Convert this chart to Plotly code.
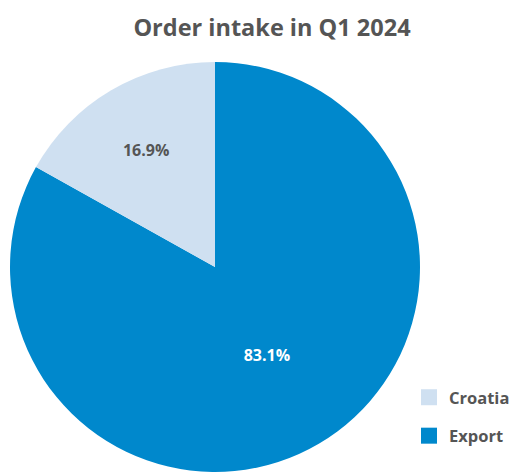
import plotly.graph_objects as go

labels = ["Croatia", "Export"]
values = [16.9, 83.1]
colors = ["#cfe0f1", "#0088cc"]
text_colors = ["#555555", "#ffffff"]

FONT = "Open Sans"

# Export is drawn first so that it runs clockwise from 12 o'clock
fig = go.Figure(go.Pie(
    labels=labels[::-1],
    values=values[::-1],
    sort=False,
    direction="clockwise",
    rotation=0,
    marker=dict(colors=colors[::-1], line=dict(width=0)),
    texttemplate="%{value:.1f}%",
    textposition="inside",
    insidetextorientation="horizontal",
    textfont=dict(family=FONT, size=16, color=text_colors[::-1], weight="bold"),
    domain=dict(x=[2/517, 412/517], y=[0, 426/472]),
    hoverinfo="label+percent",
    showlegend=False,
))

# legend entries (one per category)
for lab, col in zip(labels, colors):
    fig.add_trace(go.Scatter(
        x=[None], y=[None], mode="markers", name=lab, legendgroup=lab,
        marker=dict(symbol="square", size=20, color=col), showlegend=True,
        hoverinfo="skip",
    ))

fig.update_layout(
    width=517, height=472,
    margin=dict(l=0, r=0, t=0, b=0),
    paper_bgcolor="white",
    plot_bgcolor="rgba(0,0,0,0)",
    xaxis=dict(visible=False),
    yaxis=dict(visible=False),
    title=dict(text="Order intake in Q1 2024", x=264/517, xanchor="center",
               y=1 - 20/472, yanchor="middle",
               font=dict(family=FONT, size=23.5, color="#555555", weight="bold")),
    legend=dict(x=401/517, xanchor="left", y=1 - 372/472, yanchor="top",
                font=dict(family=FONT, size=16.5, color="#555555", weight="bold"),
                tracegroupgap=14, bgcolor="rgba(0,0,0,0)"),
)

fig.write_html("out.html")
